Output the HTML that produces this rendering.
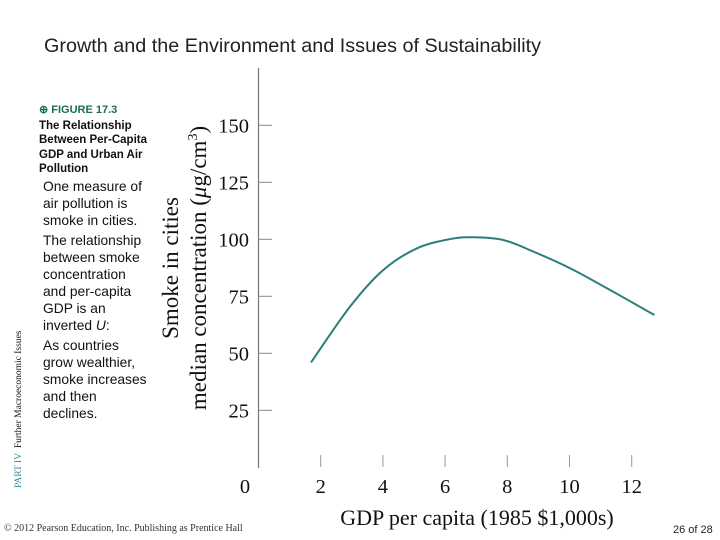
<!DOCTYPE html>
<html><head><meta charset="utf-8"><style>
body{margin:0;width:720px;height:540px;background:#fff;overflow:hidden;position:relative;font-family:"Liberation Sans",sans-serif}
.a{position:absolute;white-space:nowrap}
</style></head><body>
<div class="a" style="left:44px;top:35px;font-size:19.8px;color:#222">Growth and the Environment and Issues of Sustainability</div>
<div class="a" style="left:39px;top:103px;font-size:11px;font-weight:bold;color:#1d6a5a">⊕ FIGURE 17.3</div>
<div class="a" style="left:39px;top:119px;font-size:11.5px;font-weight:bold;line-height:14.3px;color:#111">The Relationship<br>Between Per-Capita<br>GDP and Urban Air<br>Pollution</div>
<div class="a" style="left:43px;top:178px;font-size:13.8px;line-height:17px;color:#111">One measure of<br>air pollution is<br>smoke in cities.<div style="height:3px"></div>The relationship<br>between smoke<br>concentration<br>and per-capita<br>GDP is an<br>inverted <i>U</i>:<div style="height:3px"></div>As countries<br>grow wealthier,<br>smoke increases<br>and then<br>declines.</div>
<div class="a" style="left:14px;top:488px;transform-origin:0 0;transform:rotate(-90deg);font-family:'Liberation Serif',serif;font-size:9.5px;color:#111"><span style="color:#2a8a9a">PART IV</span>&nbsp; Further Macroeconomic Issues</div>
<div class="a" style="left:4px;top:523px;font-family:'Liberation Serif',serif;font-size:10px;color:#333">© 2012 Pearson Education, Inc. Publishing as Prentice Hall</div>
<div class="a" style="left:673px;top:524px;font-size:11px;color:#222">26 of 28</div>
<svg id="c" width="720" height="540" style="position:absolute;left:0;top:0" font-family="Liberation Serif, serif"></svg>
<script>
const xTicks=[2,4,6,8,10,12];
const yTicks=[25,50,75,100,125,150];
const gdp=[1.69,2.94,4.01,5.09,6.16,6.91,7.87,8.84,10.02,11.3,12.73];
const smoke=[46,70.4,86.5,96,100.1,100.9,99.7,94.6,87.3,77.8,66.8];
const X=v=>258.5+v*31.1, Y=v=>467.3-v*2.28;
const s=document.getElementById('c'),NS='http://www.w3.org/2000/svg';
function mk(t,a,txt){const e=document.createElementNS(NS,t);for(const k in a)e.setAttribute(k,a[k]);if(txt!=null)e.textContent=txt;s.appendChild(e);return e;}
let e=mk('line',{x1:258.5,y1:68,x2:258.5,y2:468,stroke:'#777','stroke-width':1.2});

yTicks.forEach(v=>{
 let t=mk('line',{x1:258.5,x2:272,y1:Y(v),y2:Y(v),stroke:'#888','stroke-width':1});
 
 let l=mk('text',{x:249,y:Y(v)+7,'text-anchor':'end','font-size':20.5,fill:'#111'},v);
 
});
let z=mk('text',{x:245,y:493,'text-anchor':'middle','font-size':20.5,fill:'#111'},'0');

xTicks.forEach(v=>{
 let t=mk('line',{x1:X(v),x2:X(v),y1:455,y2:467,stroke:'#999','stroke-width':1});
 
 let l=mk('text',{x:X(v),y:493,'text-anchor':'middle','font-size':20.5,fill:'#111'},v);
 
});
let xt=mk('text',{x:477,y:525,'text-anchor':'middle','font-size':22,fill:'#111'},'GDP per capita (1985 $1,000s)');

let y1=mk('text',{x:0,y:0,transform:'translate(178,268) rotate(-90)','text-anchor':'middle','font-size':23,fill:'#111'},'Smoke in cities');

let y2=mk('text',{x:0,y:0,transform:'translate(206,268) rotate(-90)','text-anchor':'middle','font-size':23,fill:'#111'});
y2.innerHTML='median concentration (<tspan font-style="italic">μ</tspan>g/cm<tspan font-size="14" dy="-9">3</tspan><tspan dy="9">)</tspan>';

const P=gdp.map((g,i)=>[X(g),Y(smoke[i])]);
let d='M'+P[0][0]+','+P[0][1];
for(let i=0;i<P.length-1;i++){const p0=P[i-1]||P[i],p1=P[i],p2=P[i+1],p3=P[i+2]||p2;
 d+=` C${p1[0]+(p2[0]-p0[0])/6},${p1[1]+(p2[1]-p0[1])/6} ${p2[0]-(p3[0]-p1[0])/6},${p2[1]-(p3[1]-p1[1])/6} ${p2[0]},${p2[1]}`;}
let c=mk('path',{d:d,fill:'none',stroke:'#2a7f78','stroke-width':2});

</script>
</body></html>
